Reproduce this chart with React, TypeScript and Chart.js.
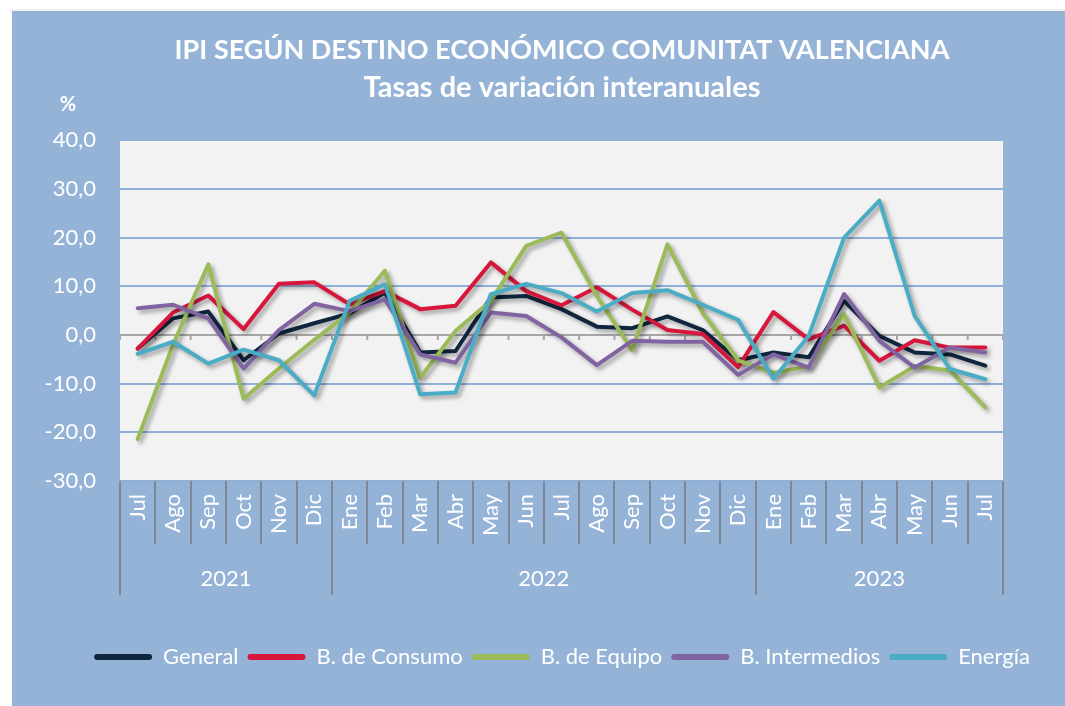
import React, { useEffect, useRef } from "react";
import { Chart, registerables } from "chart.js";

Chart.register(...registerables);

const months = ["Jul", "Ago", "Sep", "Oct", "Nov", "Dic", "Ene", "Feb", "Mar", "Abr", "May", "Jun", "Jul", "Ago", "Sep", "Oct", "Nov", "Dic", "Ene", "Feb", "Mar", "Abr", "May", "Jun", "Jul"];
const years = ["2021", "2022", "2023"];
const yearSpans = [6, 12, 7];

const general = [-2.8, 3.4, 4.8, -5.2, 0.3, 2.4, 4.4, 8.7, -3.6, -3.3, 7.7, 8.0, 5.3, 1.7, 1.4, 3.8, 1.0, -5.2, -3.6, -4.6, 7.0, -0.2, -3.6, -4.0, -6.3];
const consumo = [-2.8, 4.6, 8.1, 1.2, 10.5, 10.8, 6.3, 9.0, 5.3, 6.0, 14.9, 9.0, 6.1, 9.8, 5.2, 1.0, 0.2, -6.6, 4.7, -0.9, 1.9, -5.3, -1.1, -2.6, -2.6];
const equipo = [-21.4, -2.0, 14.5, -13.1, -6.9, -1.0, 4.6, 13.2, -8.8, 0.8, 7.0, 18.3, 21.0, 8.0, -3.1, 18.6, 4.5, -5.2, -7.8, -6.4, 4.3, -10.8, -6.4, -7.3, -14.9];
const intermedios = [5.5, 6.2, 3.4, -6.9, 1.0, 6.4, 4.9, 7.3, -4.0, -5.7, 4.6, 3.9, -0.5, -6.2, -1.2, -1.4, -1.4, -8.2, -4.0, -6.7, 8.4, -1.2, -6.7, -2.6, -3.6];
const energia = [-3.9, -1.4, -5.9, -3.0, -5.2, -12.4, 7.0, 10.4, -12.2, -11.8, 8.4, 10.5, 8.6, 4.8, 8.6, 9.2, 6.2, 3.1, -9.0, -0.2, 20.0, 27.6, 3.9, -7.0, -9.1];

const seriesNames = ["General", "B. de Consumo", "B. de Equipo", "B. Intermedios", "Energía"];
const seriesColors = ["#10263f", "#d8163c", "#9bbb59", "#8064a2", "#4bacc6"];

const PANEL = "#95b3d7";
const FONT = "Lato, 'Open Sans', sans-serif";

const panelPlugin = {
  id: "panelPlugin",
  beforeDraw(chart: any) {
    const { ctx, chartArea: a } = chart;
    ctx.save();
    ctx.fillStyle = "#ffffff";
    ctx.fillRect(0, 0, chart.width, chart.height);
    ctx.fillStyle = "rgba(0,0,0,0.06)";
    ctx.fillRect(10, 9, chart.width, 3);
    ctx.fillStyle = PANEL;
    ctx.fillRect(12, 11, chart.width - 12, chart.height - 11);
    ctx.fillStyle = "#f2f2f2";
    ctx.fillRect(a.left, a.top, a.right - a.left, a.bottom - a.top);
    ctx.restore();
  },
  beforeDatasetsDraw(chart: any) {
    const { ctx, scales } = chart;
    const x = scales.x;
    const y0 = scales.y.getPixelForValue(0);
    const step = x.getPixelForValue(1) - x.getPixelForValue(0);
    ctx.save();
    ctx.strokeStyle = "#a6a6a6";
    ctx.lineWidth = 2;
    ctx.beginPath();
    ctx.moveTo(chart.chartArea.left, y0);
    ctx.lineTo(chart.chartArea.right, y0);
    for (let i = 0; i <= months.length; i++) {
      const px = x.getPixelForValue(0) - step / 2 + i * step;
      ctx.moveTo(px, y0);
      ctx.lineTo(px, y0 + 5);
    }
    ctx.stroke();
    ctx.restore();
  },
  afterDraw(chart: any) {
    const { ctx, scales, chartArea: a } = chart;
    const x = scales.x;
    const step = x.getPixelForValue(1) - x.getPixelForValue(0);
    const start = x.getPixelForValue(0) - step / 2;
    const boundaries = new Set<number>([0]);
    let acc = 0;
    yearSpans.forEach((s) => {
      acc += s;
      boundaries.add(acc);
    });
    ctx.save();
    ctx.strokeStyle = "#808896";
    ctx.lineWidth = 2;
    for (let i = 0; i <= months.length; i++) {
      const px = Math.round(start + i * step);
      ctx.beginPath();
      ctx.moveTo(px, a.bottom);
      ctx.lineTo(px, a.bottom + (boundaries.has(i) ? 114 : 63));
      ctx.stroke();
    }
    ctx.fillStyle = "#ffffff";
    ctx.font = `22px ${FONT}`;
    ctx.textAlign = "center";
    ctx.textBaseline = "middle";
    let from = 0;
    yearSpans.forEach((s, k) => {
      const cx = start + (from + s / 2) * step;
      ctx.fillText(years[k], cx, a.bottom + 98);
      from += s;
    });
    ctx.font = `bold 20px ${FONT}`;
    ctx.fillText("%", 68, 105);
    ctx.restore();
  },
};

const shadowPlugin = {
  id: "shadowPlugin",
  beforeDatasetDraw(chart: any) {
    const ctx = chart.ctx;
    ctx.save();
    ctx.shadowColor = "rgba(0,0,0,0.35)";
    ctx.shadowBlur = 4;
    ctx.shadowOffsetX = 3;
    ctx.shadowOffsetY = 3;
  },
  afterDatasetDraw(chart: any) {
    chart.ctx.restore();
  },
};

export default function App() {
  const ref = useRef<HTMLCanvasElement>(null);

  useEffect(() => {
    if (!ref.current) return;
    const values = [general, consumo, equipo, intermedios, energia];
    const chart = new Chart(ref.current, {
      type: "line",
      data: {
        labels: months,
        datasets: values.map((v, i) => ({
          label: seriesNames[i],
          data: v,
          borderColor: seriesColors[i],
          backgroundColor: seriesColors[i],
          borderWidth: 4,
          pointRadius: 0,
          tension: 0,
          borderCapStyle: "round",
          borderJoinStyle: "round",
          order: 5 - i,
        })),
      },
      options: {
        responsive: false,
        animation: false,
        devicePixelRatio: 1,
        layout: { padding: { left: 0, right: 0, top: 0, bottom: 28 } },
        plugins: {
          tooltip: { enabled: false },
          title: {
            display: true,
            text: "IPI SEGÚN DESTINO ECONÓMICO COMUNITAT VALENCIANA",
            color: "#ffffff",
            font: { family: FONT, size: 27, weight: "bold", lineHeight: 1.2 },
            padding: { top: 34, bottom: 0 },
          },
          subtitle: {
            display: true,
            text: "Tasas de variación interanuales",
            color: "#ffffff",
            font: { family: FONT, size: 29, weight: "bold", lineHeight: 1.2 },
            padding: { top: 4, bottom: 35 },
          },
          legend: {
            position: "bottom",
            labels: {
              color: "#ffffff",
              font: { family: FONT, size: 22 },
              boxWidth: 58,
              boxHeight: 6,
              padding: 9,
              useBorderRadius: true,
              borderRadius: 3,
              sort: (a: any, b: any) => a.datasetIndex - b.datasetIndex,
              generateLabels: (c: any) =>
                Chart.defaults.plugins.legend.labels
                  .generateLabels(c)
                  .map((l: any) => ({ ...l, lineWidth: 0, fillStyle: l.strokeStyle })),
            },
          },
        },
        scales: {
          x: {
            type: "category",
            offset: true,
            grid: { display: false, drawTicks: false },
            border: { display: false },
            ticks: {
              color: "#ffffff",
              font: { family: FONT, size: 22 },
              maxRotation: 90,
              minRotation: 90,
              padding: 13,
              autoSkip: false,
            },
            afterFit: (s: any) => {
              s.height = 156;
            },
          },
          y: {
            min: -30,
            max: 40,
            grid: {
              color: (c: any) => (c.tick && c.tick.value === 0 ? "rgba(0,0,0,0)" : "#8fb0d8"),
              lineWidth: 2,
              drawTicks: false,
            },
            border: { display: false },
            ticks: {
              stepSize: 10,
              color: "#ffffff",
              font: { family: FONT, size: 22 },
              padding: 24,
              callback: (v: any) => Number(v).toFixed(1).replace(".", ","),
            },
            afterFit: (s: any) => {
              s.width = 120;
            },
          },
          y2: {
            position: "right",
            display: true,
            grid: { display: false, drawTicks: false },
            border: { display: false },
            ticks: { display: false },
            afterFit: (s: any) => {
              s.width = 121;
            },
          },
        },
      },
      plugins: [panelPlugin, shadowPlugin],
    } as any);
    return () => chart.destroy();
  }, []);

  return (
    <div style={{ position: "fixed", left: 0, top: 0, width: 1065, height: 706, overflow: "hidden" }}>
      <canvas ref={ref} width={1124} height={706} style={{ width: 1124, height: 706, display: "block" }} />
    </div>
  );
}
